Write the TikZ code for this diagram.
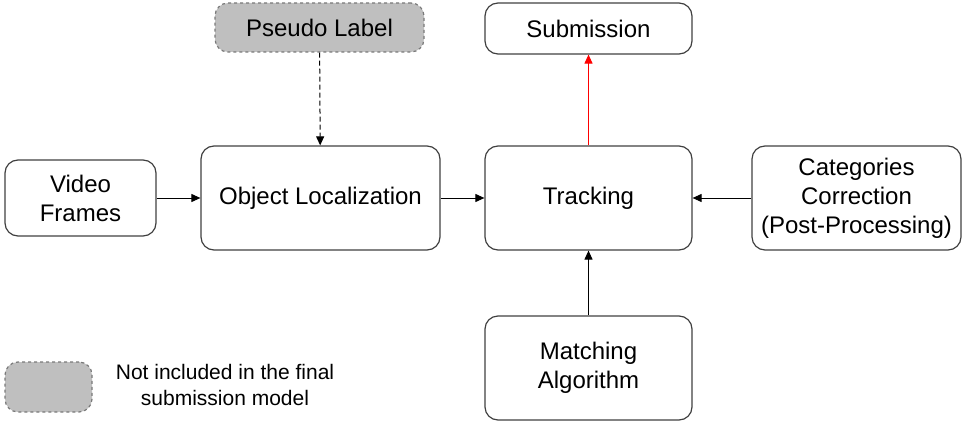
\documentclass[tikz,border=0pt]{standalone}
\usepackage{fontspec}
\setmainfont{Liberation Sans}
\usetikzlibrary{arrows.meta}
\definecolor{boxline}{HTML}{404040}
\definecolor{boxgray}{HTML}{BFBFBF}
\tikzset{
  blk/.style={draw=boxline, line width=1.2pt, rounded corners=13pt, align=center, font=\fontsize{24}{29}\selectfont, inner sep=0pt},
  dropped/.style={blk, fill=boxgray, dashed, draw=boxline!70},
  flow/.style={-{Triangle[length=9pt,width=8pt]}, line width=1pt},
}
\begin{document}
\begin{tikzpicture}[x=1pt,y=-1pt]
\useasboundingbox (0,0) rectangle (966,428);
\node[dropped, minimum width=209pt, minimum height=49pt] (pseudo) at (319.5,27.5) {Pseudo Label};
\node[blk, minimum width=207pt, minimum height=51pt] (submit) at (588.5,28.5) {Submission};
\node[blk, minimum width=151pt, minimum height=76pt] (video) at (80.5,198) {Video\\Frames};
\node[blk, minimum width=239pt, minimum height=104pt] (objloc) at (320.5,198) {Object Localization};
\node[blk, minimum width=207pt, minimum height=104pt] (track) at (588.5,198) {Tracking};
\node[blk, minimum width=209pt, minimum height=104pt] (catcorr) at (856.5,198) {Categories\\Correction\\(Post-Processing)};
\node[blk, minimum width=207pt, minimum height=104pt] (match) at (588.5,368) {Matching\\Algorithm};
\node[dropped, minimum width=87pt, minimum height=50pt] (legbox) at (48.5,387) {};
\node[align=center, font=\fontsize{21}{26}\selectfont] (legtext) at (225,385) {Not included in the final\\submission model};

\draw[flow, dash pattern=on 5pt off 3pt] (pseudo) -- (objloc);
\draw[flow] (video) -- (objloc);
\draw[flow] (objloc) -- (track);
\draw[flow] (catcorr) -- (track);
\draw[flow] (match) -- (track);
\draw[flow, red] (track) -- (submit);
\end{tikzpicture}
\end{document}
